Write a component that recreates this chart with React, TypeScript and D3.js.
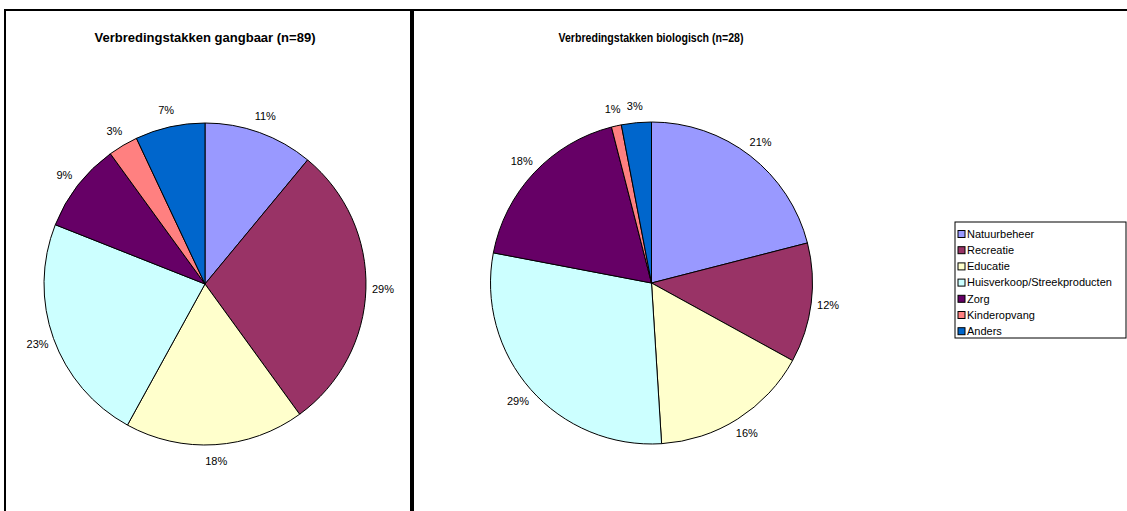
import * as d3 from "d3";
import { ReactElement } from "react";

// categories, shared by both pies and the legend
const categories = [
    "Natuurbeheer",
    "Recreatie",
    "Educatie",
    "Huisverkoop/Streekproducten",
    "Zorg",
    "Kinderopvang",
    "Anders",
];

// percentages
const gangbaarValues = [11, 29, 18, 23, 9, 3, 7];
const biologischValues = [21, 12, 16, 29, 18, 1, 3];

const titles = [
    "Verbredingstakken gangbaar (n=89)",
    "Verbredingstakken biologisch (n=28)",
];

const sliceColors = ["#9999FF", "#993366", "#FFFFCC", "#CCFFFF", "#660066", "#FF8080", "#0066CC"];

const FONT = "'Liberation Sans', Arial, sans-serif";
const WIDTH = 1127;
const HEIGHT = 511;
const RADIUS = 161;

interface PieProps {
    cx: number,
    cy: number,
    values: number[],
}

const Pie = (props: PieProps): ReactElement => {
    const { cx, cy, values } = props;

    const total = d3.sum(values);
    const pie = d3.pie<number>().sort(null).value((d) => d);
    const arcs = pie(values);

    const arc = d3.arc<d3.PieArcDatum<number>>().innerRadius(0).outerRadius(RADIUS);
    // labels sit just outside the edge along each slice's middle angle
    const labelArc = d3.arc<d3.PieArcDatum<number>>().innerRadius(RADIUS + 17).outerRadius(RADIUS + 17);

    return (
        <g transform={`translate(${cx},${cy})`}>
            {arcs.map((a, i) => (
                <path key={i} d={arc(a)!} fill={sliceColors[i]} stroke="#000" strokeWidth={1} />
            ))}
            {arcs.map((a, i) => {
                const [x, y] = labelArc.centroid(a);
                return (
                    <text key={"l" + i} x={x} y={y} dy="0.35em" textAnchor="middle"
                        fontFamily={FONT} fontSize={11} fill="#000">
                        {d3.format(".0%")(a.value / total)}
                    </text>
                );
            })}
        </g>
    );
};

const App = (): ReactElement => {
    const legendX = 955;
    const legendY = 222;
    const rowH = 16.2;

    return (
        <svg width={WIDTH} height={HEIGHT} style={{ position: "absolute", left: 0, top: 0, background: "#fff" }}>
            <rect x={0} y={0} width={WIDTH} height={HEIGHT} fill="#fff" />

            {/* panel frames */}
            <rect x={5} y={10} width={406} height={540} fill="none" stroke="#000" strokeWidth={2} />
            <rect x={413} y={10} width={740} height={540} fill="none" stroke="#000" strokeWidth={2} />

            <text x={205} y={42} textAnchor="middle" fontFamily={FONT} fontSize={12} fontWeight="bold"
                textLength={221} lengthAdjust="spacingAndGlyphs">
                {titles[0]}
            </text>
            <text x={651} y={42} textAnchor="middle" fontFamily={FONT} fontSize={12} fontWeight="bold"
                textLength={185} lengthAdjust="spacingAndGlyphs">
                {titles[1]}
            </text>

            <Pie cx={205} cy={284} values={gangbaarValues} />
            <Pie cx={651.5} cy={283} values={biologischValues} />

            {/* legend */}
            <rect x={legendX} y={legendY} width={171} height={116} fill="#fff" stroke="#000" strokeWidth={1} />
            {categories.map((c, i) => {
                const y = legendY + 12 + i * rowH;
                return (
                    <g key={c}>
                        <rect x={legendX + 3} y={y - 3.5} width={7} height={7} fill={sliceColors[i]} stroke="#000" strokeWidth={1} />
                        <text x={legendX + 12} y={y} dy="0.35em" fontFamily={FONT} fontSize={11}>
                            {c}
                        </text>
                    </g>
                );
            })}
        </svg>
    );
};

export default App;
